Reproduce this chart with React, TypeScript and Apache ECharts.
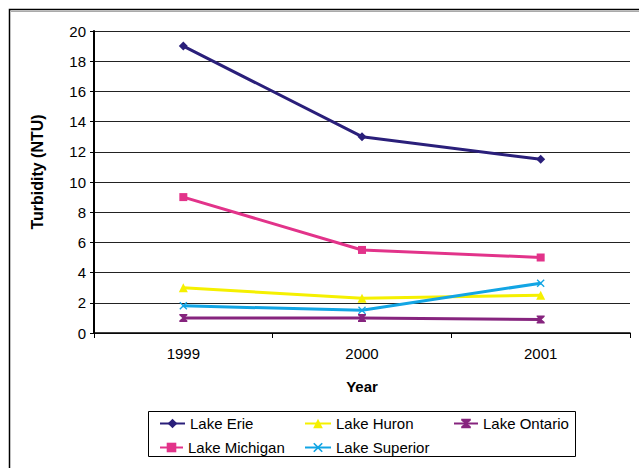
import React, { useEffect, useRef } from "react";
import * as echarts from "echarts";

const years = ["1999", "2000", "2001"];
const erie = [19, 13, 11.5];
const michigan = [9, 5.5, 5];
const huron = [3, 2.3, 2.5];
const superior = [1.8, 1.5, 3.3];
const ontario = [1.0, 1.0, 0.9];

const seriesNames = ["Lake Erie", "Lake Huron", "Lake Ontario", "Lake Michigan", "Lake Superior"];
const colors: Record<string, string> = {
  "Lake Erie": "#2A1F7A",
  "Lake Michigan": "#E2338A",
  "Lake Huron": "#F5F000",
  "Lake Superior": "#12A5E4",
  "Lake Ontario": "#86247E",
};

const xSym = "path://M0,1.2L1.2,0L5,3.8L8.8,0L10,1.2L6.2,5L10,8.8L8.8,10L5,6.2L1.2,10L0,8.8L3.8,5Z";
const hourSym = "path://M0,0H10V1.8L6.3,5L10,8.2V10H0V8.2L3.7,5L0,1.8Z";

const FONT = "'Liberation Sans', Arial, sans-serif";

export default function App() {
  const ref = useRef<HTMLDivElement>(null);
  useEffect(() => {
    if (!ref.current) return;
    const chart = echarts.init(ref.current, undefined, { renderer: "svg" });
    const mk = (name: string, data: number[], symbol: string, size: number) => ({
      name,
      type: "line",
      data,
      symbol,
      symbolSize: size,
      showSymbol: true,
      lineStyle: { color: colors[name], width: 3 },
      itemStyle: { color: colors[name] },
      z: 3,
    });
    const legendPos: Record<string, [number, number, number]> = {
      "Lake Erie": [159, 416, 25],
      "Lake Huron": [304, 416, 26],
      "Lake Ontario": [453, 416, 24],
      "Lake Michigan": [159, 440, 23],
      "Lake Superior": [304, 440, 26],
    };
    const legends = seriesNames.map((n) => ({
      data: [n],
      left: legendPos[n][0],
      top: legendPos[n][1],
      itemWidth: legendPos[n][2],
      itemHeight: 12,
      itemGap: 2,
      padding: 0,
      textStyle: { fontFamily: FONT, fontSize: 15, color: "#000" },
      selectedMode: false,
    }));
    chart.setOption({
      animation: false,
      backgroundColor: "#fff",
      grid: { left: 94, right: 9, top: 31, bottom: 135, containLabel: false },
      legend: legends,
      graphic: [
        { type: "rect", shape: { x: 9.5, y: 9.5, width: 640, height: 470 }, style: { fill: "none", stroke: "#000", lineWidth: 1.5 }, z: -1 },
        { type: "line", shape: { x1: 11, y1: 11.5, x2: 640, y2: 11.5 }, style: { stroke: "#aaa", lineWidth: 1 }, z: -1 },
        { type: "rect", shape: { x: 148.5, y: 411.5, width: 427, height: 45 }, style: { fill: "none", stroke: "#000", lineWidth: 1 }, z: -1 },
      ],
      xAxis: {
        type: "category",
        data: years,
        boundaryGap: true,
        name: "Year",
        nameLocation: "middle",
        nameGap: 46,
        nameTextStyle: { fontFamily: FONT, fontSize: 15, fontWeight: "bold", color: "#000" },
        axisLine: { lineStyle: { color: "#000", width: 1.5 } },
        axisTick: { show: true, length: 5, lineStyle: { color: "#000" } },
        axisLabel: { fontFamily: FONT, fontSize: 15, color: "#000", margin: 13 },
        splitLine: { show: false },
      },
      yAxis: {
        type: "value",
        min: 0,
        max: 20,
        interval: 2,
        name: "Turbidity (NTU)",
        nameLocation: "middle",
        nameGap: 49,
        nameTextStyle: { fontFamily: FONT, fontSize: 16, fontWeight: "bold", color: "#000", padding: [0, 0, 0, 20] },
        axisLine: { show: true, lineStyle: { color: "#000", width: 2 } },
        axisTick: { show: true, length: 4, lineStyle: { color: "#000" } },
        axisLabel: { fontFamily: FONT, fontSize: 15, color: "#000", margin: 8 },
        splitLine: { show: true, lineStyle: { color: "#222", width: 1 } },
      },
      series: [
        mk("Lake Erie", erie, "diamond", 9),
        mk("Lake Michigan", michigan, "rect", 8),
        mk("Lake Huron", huron, "triangle", 9),
        mk("Lake Superior", superior, xSym, 8),
        mk("Lake Ontario", ontario, hourSym, 8),
      ],
    });
    return () => chart.dispose();
  }, []);
  return <div ref={ref} style={{ position: "fixed", left: 0, top: 0, width: 639, height: 468 }} />;
}
